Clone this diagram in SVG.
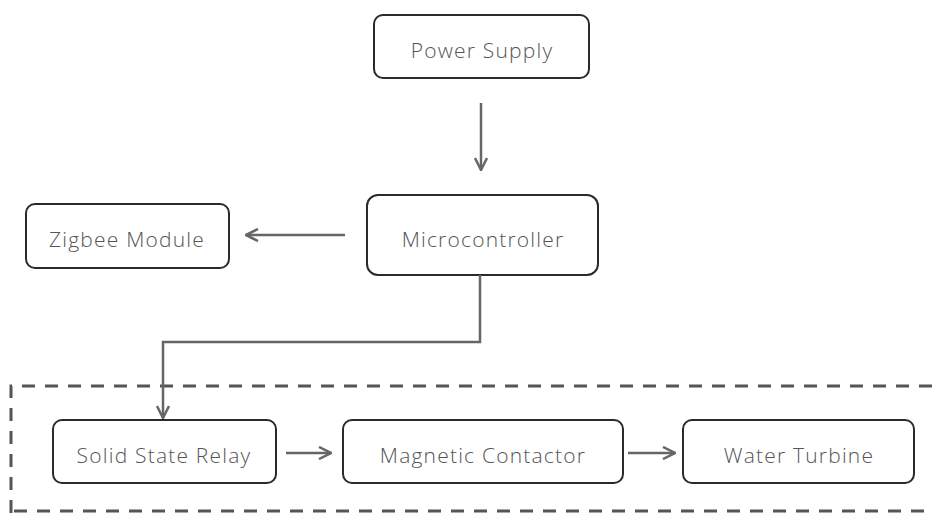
<svg xmlns="http://www.w3.org/2000/svg" width="932" height="514" viewBox="0 0 932 514">
<style>
.box{fill:#fff;stroke:#2a2a2a;stroke-width:2}
.lbl{font-family:"Open Sans","Noto Sans",sans-serif;font-size:21px;letter-spacing:1.2px;fill:#555;text-anchor:middle;dominant-baseline:central;font-weight:300}
.con{fill:none;stroke:#666;stroke-width:2.5}
.dash{fill:none;stroke:#555;stroke-width:3;stroke-dasharray:13 10}
</style>
<defs>
<marker id="ah" viewBox="0 0 14 14" refX="13" refY="7" markerWidth="14" markerHeight="14" markerUnits="userSpaceOnUse" orient="auto">
<path d="M1,1 L13,7 L1,13" fill="none" stroke="#666" stroke-width="2.5"/>
</marker>
</defs>
<rect width="932" height="514" fill="#fff"/>
<g id="group-boundary">
<path class="dash" d="M932,386 H11 V514"/>
<path class="dash" d="M14,511 H932"/>
</g>
<g id="power-supply"><rect class="box" x="374" y="15" width="215" height="63" rx="9"/><text class="lbl" x="482" y="50">Power Supply</text></g>
<g id="microcontroller"><rect class="box" x="367" y="195" width="231" height="80" rx="11"/><text class="lbl" x="483" y="239">Microcontroller</text></g>
<g id="zigbee-module"><rect class="box" x="26" y="204" width="203" height="64" rx="9"/><text class="lbl" x="127" y="239">Zigbee Module</text></g>
<g id="solid-state-relay"><rect class="box" x="53" y="420" width="223" height="63" rx="9"/><text class="lbl" x="164" y="455">Solid State Relay</text></g>
<g id="magnetic-contactor"><rect class="box" x="343" y="420" width="280" height="63" rx="9"/><text class="lbl" x="483" y="455">Magnetic Contactor</text></g>
<g id="water-turbine"><rect class="box" x="683" y="420" width="231" height="63" rx="9"/><text class="lbl" x="799" y="455">Water Turbine</text></g>
<g id="connectors">
<path class="con" d="M481,103 V170" marker-end="url(#ah)"/>
<path class="con" d="M345,235 H246" marker-end="url(#ah)"/>
<path class="con" d="M480,275 V342 H163 V418" marker-end="url(#ah)"/>
<path class="con" d="M286,453 H331" marker-end="url(#ah)"/>
<path class="con" d="M628,453 H675" marker-end="url(#ah)"/>
</g>
</svg>
